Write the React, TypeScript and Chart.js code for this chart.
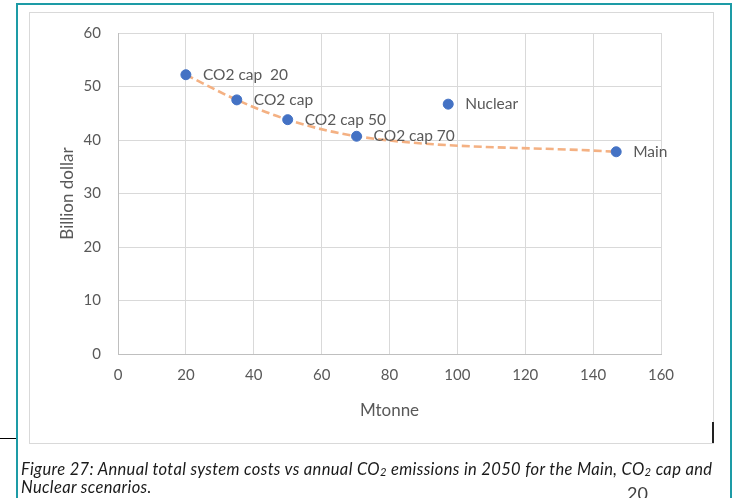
import React, { useEffect, useRef } from "react";
import { Chart, registerables } from "chart.js";

Chart.register(...registerables);

// ---- data ----
const scenarioLabels = ["CO2 cap  20", "CO2 cap", "CO2 cap 50", "CO2 cap 70", "Nuclear", "Main"];
const emissions = [20, 35, 50, 70.3, 97.3, 146.8];
const costs = [52.2, 47.5, 43.8, 40.7, 46.7, 37.8];
const trendEmissions = [20, 35, 50, 70.3, 146.8];
const trendCosts = [52.2, 47.5, 43.8, 40.7, 37.8];
const xTickValues = [0, 20, 40, 60, 80, 100, 120, 140, 160];
const yTickValues = [0, 10, 20, 30, 40, 50, 60];
const xTitle = "Mtonne";
const yTitle = "Billion dollar";

const FONT = "Lato";
const TEXT_COLOR = "#595959";

const labelPlugin = {
  id: "pointLabels",
  afterDatasetsDraw(chart: any) {
    const meta = chart.getDatasetMeta(0);
    const ctx = chart.ctx;
    ctx.save();
    ctx.font = `15.5px ${FONT}`;
    ctx.fillStyle = TEXT_COLOR;
    ctx.textAlign = "left";
    ctx.textBaseline = "middle";
    meta.data.forEach((el: any, i: number) => {
      ctx.fillText(scenarioLabels[i], el.x + 17, el.y);
    });
    ctx.restore();
  },
};

export default function App() {
  const canvasRef = useRef<HTMLCanvasElement | null>(null);
  const capRef = useRef<HTMLDivElement | null>(null);
  const blockRef = useRef<HTMLDivElement | null>(null);

  useEffect(() => {
    if (!canvasRef.current) return;
    const chart = new Chart(canvasRef.current, {
      type: "scatter",
      data: {
        datasets: [
          {
            label: "Scenarios",
            data: emissions.map((x, i) => ({ x, y: costs[i] })),
            backgroundColor: "#4472C4",
            borderColor: "#4472C4",
            pointRadius: 5,
            pointHoverRadius: 5,
            showLine: false,
          },
          {
            label: "Trend",
            data: trendEmissions.map((x, i) => ({ x, y: trendCosts[i] })),
            showLine: true,
            borderColor: "#F4B183",
            borderWidth: 2.6,
            borderDash: [8, 4],
            pointRadius: 0,
            tension: 0.4,
            cubicInterpolationMode: "monotone",
            fill: false,
          },
        ],
      },
      options: {
        animation: false,
        responsive: false,
        maintainAspectRatio: false,
        layout: { padding: { left: 57, right: 72, top: 33, bottom: 77 } },
        plugins: {
          legend: { display: false },
          tooltip: { enabled: false },
        },
        scales: {
          x: {
            type: "linear",
            min: 0,
            max: 160,
            afterBuildTicks: (s: any) => {
              s.ticks = xTickValues.map((v) => ({ value: v }));
            },
            afterFit: (s: any) => {
              s.height = 67;
            },
            ticks: {
              font: { family: FONT, size: 15 },
              color: TEXT_COLOR,
              padding: 12,
              maxRotation: 0,
            },
            grid: { color: "#d9d9d9", lineWidth: 1, drawTicks: false },
            border: { color: "#bfbfbf", width: 1 },
            title: {
              display: true,
              text: xTitle,
              font: { family: FONT, size: 17 },
              color: TEXT_COLOR,
              padding: 0,
            },
          },
          y: {
            type: "linear",
            min: 0,
            max: 60,
            afterBuildTicks: (s: any) => {
              s.ticks = yTickValues.map((v) => ({ value: v }));
            },
            afterFit: (s: any) => {
              s.width = 61;
            },
            ticks: {
              font: { family: FONT, size: 15 },
              color: TEXT_COLOR,
              padding: 17,
            },
            grid: { color: "#d9d9d9", lineWidth: 1, drawTicks: false },
            border: { color: "#bfbfbf", width: 1 },
            title: {
              display: true,
              text: yTitle,
              font: { family: FONT, size: 17 },
              color: TEXT_COLOR,
              padding: 0,
            },
          },
        },
      },
      plugins: [labelPlugin],
    } as any);

    // stretch the caption so its first line spans the reference width (21 → 712)
    const line = capRef.current;
    const block = blockRef.current;
    if (line && block) {
      block.style.letterSpacing = "0px";
      const w = line.getBoundingClientRect().width;
      const chars = (line.textContent || "").length;
      if (w > 0 && chars > 1) {
        const extra = (691 - w) / (chars - 1);
        block.style.letterSpacing = `${extra}px`;
      }
    }
    return () => chart.destroy();
  }, []);

  const sub = { fontSize: "0.68em", verticalAlign: "-0.12em", lineHeight: 0 } as React.CSSProperties;

  return (
    <div
      style={{
        position: "absolute",
        left: 0,
        top: 0,
        width: 733,
        height: 498,
        overflow: "hidden",
        background: "#ffffff",
      }}
    >
      {/* teal frame */}
      <div
        style={{
          position: "absolute",
          left: 16,
          top: 3,
          width: 712,
          height: 540,
          border: "2px solid #1d9ba6",
          boxSizing: "content-box",
        }}
      />
      {/* chart area border */}
      <div
        style={{
          position: "absolute",
          left: 29,
          top: 12,
          width: 683,
          height: 430,
          border: "1px solid #d9d9d9",
        }}
      />
      {/* black marks */}
      <div style={{ position: "absolute", left: 0, top: 438, width: 16, height: 1, background: "#000" }} />
      <div style={{ position: "absolute", left: 712, top: 422, width: 1.5, height: 21, background: "#222" }} />
      <canvas
        ref={canvasRef}
        width={733}
        height={498}
        style={{ position: "absolute", left: 0, top: 0, width: 733, height: 498 }}
      />
      {/* caption */}
      <div
        ref={blockRef}
        style={{
          position: "absolute",
          left: 21,
          top: 461,
          whiteSpace: "nowrap",
          fontFamily: FONT,
          fontStyle: "italic",
          fontSize: 16.5,
          lineHeight: "17.8px",
          color: "#1a1a1a",
        }}
      >
        <div ref={capRef} style={{ display: "inline-block" }}>
          Figure 27: Annual total system costs vs annual CO<span style={sub}>2</span> emissions in 2050 for the Main, CO
          <span style={sub}>2</span> cap and
        </div>
        <div>Nuclear scenarios.</div>
      </div>
      <div
        style={{
          position: "absolute",
          left: 627,
          top: 483,
          fontFamily: FONT,
          fontSize: 18,
          lineHeight: 1.2,
          color: "#404040",
        }}
      >
        20
      </div>
    </div>
  );
}
